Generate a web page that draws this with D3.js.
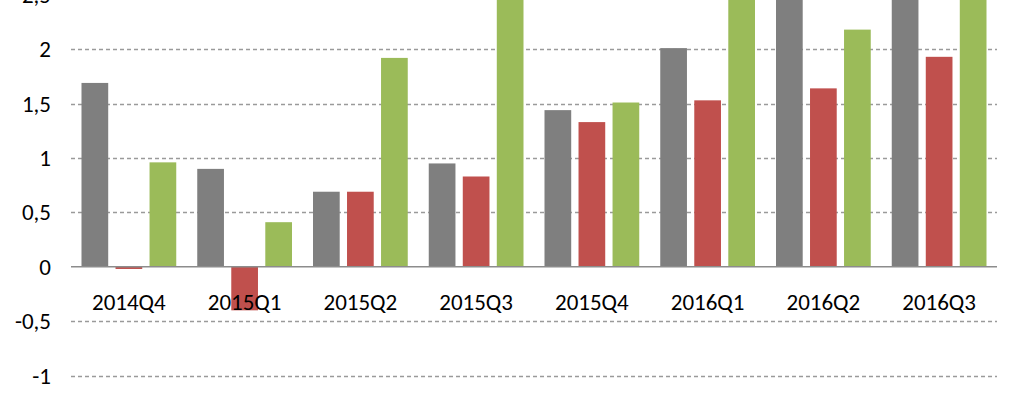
<!DOCTYPE html>
<html><head><meta charset="utf-8">
<script src="https://cdn.jsdelivr.net/npm/d3@7"></script>
<style>
html,body{margin:0;padding:0;background:#fff;}
svg{display:block;}
text{font-family:"Carlito","Liberation Sans Narrow","DejaVu Sans Condensed",sans-serif;fill:#000;}
</style></head>
<body>
<svg id="chart" width="1024" height="407"></svg>
<script>
const categories = ["2014Q4","2015Q1","2015Q2","2015Q3","2015Q4","2016Q1","2016Q2","2016Q3"];
const seriesNames = ["A","B","C"];
const seriesA = [1.69, 0.90, 0.69, 0.95, 1.44, 2.01, 2.70, 2.80];
const seriesB = [-0.02, -0.40, 0.69, 0.83, 1.33, 1.53, 1.64, 1.93];
const seriesC = [0.96, 0.41, 1.92, 2.70, 1.51, 2.90, 2.18, 3.00];
const yTicks = [-1, -0.5, 0, 0.5, 1, 1.5, 2, 2.5];
const colors = ["#7f7f7f", "#c0504d", "#9bbb59"];

const svg = d3.select("#chart");
const left = 71, right = 997;
const x0 = d3.scaleBand().domain(categories).range([left, right]).padding(0);
const x1 = d3.scaleBand().domain(seriesNames).range([10.5, x0.bandwidth() - 10.5]).paddingInner(0.215).paddingOuter(0);
const y = d3.scaleLinear().domain([-1, 2.5]).range([375.6, -5.2]);

const series = [seriesA, seriesB, seriesC];

// gridlines
svg.append("g").selectAll("line").data(yTicks.filter(d => d !== 0)).join("line")
  .attr("x1", left).attr("x2", right)
  .attr("y1", d => Math.round(y(d)) + 0.5).attr("y2", d => Math.round(y(d)) + 0.5)
  .attr("stroke", "#9a9a9a").attr("stroke-width", 1.3).attr("stroke-dasharray", "4,3");

// y labels
const fmt = d => String(d).replace(".", ",");
svg.append("g").selectAll("text").data(yTicks).join("text")
  .attr("x", 51).attr("y", d => y(d)).attr("dy", "0.35em")
  .attr("text-anchor", "end").attr("font-size", 23).text(fmt);

// bars
const g = svg.append("g");
categories.forEach((c, i) => {
  series.forEach((s, j) => {
    const v = s[i];
    g.append("rect")
      .attr("x", x0(c) + x1(seriesNames[j]))
      .attr("width", x1.bandwidth())
      .attr("y", Math.min(y(v), y(0)))
      .attr("height", Math.abs(y(v) - y(0)))
      .attr("fill", colors[j]);
  });
});

// zero axis
svg.append("line").attr("x1", left).attr("x2", right)
  .attr("y1", y(0)).attr("y2", y(0))
  .attr("stroke", "#8c8c8c").attr("stroke-width", 1.5);

// category labels
svg.append("g").selectAll("text").data(categories).join("text")
  .attr("x", d => x0(d) + x0.bandwidth() / 2).attr("y", 310)
  .attr("text-anchor", "middle").attr("font-size", 23).text(d => d);
</script>
</body></html>
